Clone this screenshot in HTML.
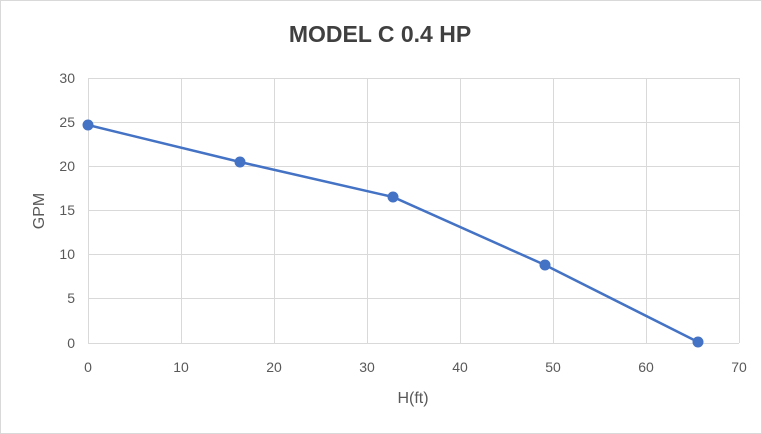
<!DOCTYPE html>
<html><head><meta charset="utf-8"><style>
html,body{margin:0;padding:0;background:#fff;}
svg{display:block;font-family:"Liberation Sans",sans-serif;}
</style></head><body>
<svg width="762" height="434" viewBox="0 0 762 434" xmlns="http://www.w3.org/2000/svg">
<rect x="0.5" y="0.5" width="761" height="433" fill="#fff" stroke="#d9d9d9"/>
<text x="380" y="42" text-anchor="middle" font-size="23" font-weight="bold" fill="#404040">MODEL C 0.4 HP</text>
<g stroke="#d9d9d9" stroke-width="1">
<line x1="88" y1="78.5" x2="739" y2="78.5"/>
<line x1="88" y1="122.5" x2="739" y2="122.5"/>
<line x1="88" y1="166.5" x2="739" y2="166.5"/>
<line x1="88" y1="210.5" x2="739" y2="210.5"/>
<line x1="88" y1="254.5" x2="739" y2="254.5"/>
<line x1="88" y1="298.5" x2="739" y2="298.5"/>
<line x1="88" y1="343.5" x2="739" y2="343.5"/>
<line x1="88.5" y1="78" x2="88.5" y2="343"/>
<line x1="181.5" y1="78" x2="181.5" y2="343"/>
<line x1="274.5" y1="78" x2="274.5" y2="343"/>
<line x1="367.5" y1="78" x2="367.5" y2="343"/>
<line x1="460.5" y1="78" x2="460.5" y2="343"/>
<line x1="553.5" y1="78" x2="553.5" y2="343"/>
<line x1="646.5" y1="78" x2="646.5" y2="343"/>
<line x1="739.5" y1="78" x2="739.5" y2="343"/>
</g>
<g font-size="14" fill="#595959" text-anchor="end">
<text x="75" y="83">30</text><text x="75" y="127">25</text><text x="75" y="171">20</text>
<text x="75" y="215">15</text><text x="75" y="259">10</text><text x="75" y="303">5</text><text x="75" y="348">0</text>
</g>
<g font-size="14" fill="#595959" text-anchor="middle">
<text x="88" y="372">0</text><text x="181" y="372">10</text><text x="274" y="372">20</text><text x="367" y="372">30</text>
<text x="460" y="372">40</text><text x="553" y="372">50</text><text x="646" y="372">60</text><text x="739" y="372">70</text>
</g>
<text x="413" y="403" text-anchor="middle" font-size="16" fill="#595959">H(ft)</text>
<text transform="translate(44,211) rotate(-90)" text-anchor="middle" font-size="16" fill="#595959">GPM</text>
<polyline points="88,125 240,162 393,197 545,265 698,342" fill="none" stroke="#4472c4" stroke-width="2.5"/>
<g fill="#4472c4">
<circle cx="88" cy="125" r="5.5"/><circle cx="240" cy="162" r="5.5"/><circle cx="393" cy="197" r="5.5"/>
<circle cx="545" cy="265" r="5.5"/><circle cx="698" cy="342" r="5.5"/>
</g>
</svg>
</body></html>
